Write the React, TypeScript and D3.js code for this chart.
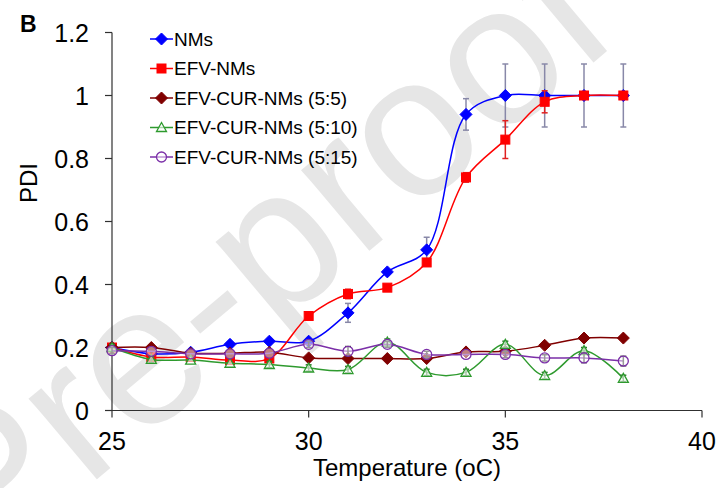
import React from "react";
import * as d3 from "d3";

const temps = [25, 26, 27, 28, 29, 30, 31, 32, 33, 34, 35, 36, 37, 38];
const nmsValues = [0.2, 0.18, 0.185, 0.21, 0.22, 0.22, 0.31, 0.44, 0.51, 0.94, 1.0, 1.0, 1.0, 1.0];
const nmsErrors = [0, 0, 0, 0, 0, 0, 0.03, 0, 0.04, 0.05, 0.1, 0.1, 0.1, 0.1];
const efvValues = [0.2, 0.17, 0.17, 0.16, 0.165, 0.3, 0.37, 0.39, 0.47, 0.74, 0.86, 0.98, 1.0, 1.0];
const efvErrors = [0.01, 0, 0, 0, 0.01, 0, 0.015, 0, 0.01, 0.015, 0.06, 0.035, 0, 0];
const c55Values = [0.2, 0.2, 0.182, 0.182, 0.185, 0.167, 0.165, 0.165, 0.165, 0.186, 0.188, 0.207, 0.23, 0.23];
const c55Errors = [0, 0, 0, 0, 0, 0, 0, 0, 0, 0, 0, 0, 0, 0];
const c510Values = [0.2, 0.162, 0.16, 0.15, 0.146, 0.135, 0.13, 0.217, 0.121, 0.121, 0.21, 0.111, 0.19, 0.102];
const c510Errors = [0.01, 0.01, 0, 0, 0.01, 0.01, 0.01, 0.01, 0.01, 0.01, 0.01, 0.01, 0.01, 0.01];
const c515Values = [0.19, 0.188, 0.18, 0.18, 0.182, 0.21, 0.188, 0.21, 0.178, 0.178, 0.178, 0.167, 0.167, 0.157];
const c515Errors = [0.01, 0, 0, 0, 0, 0.01, 0.015, 0.01, 0.01, 0, 0.01, 0.01, 0.015, 0.015];
const yTicks = [0, 0.2, 0.4, 0.6, 0.8, 1, 1.2];
const xTicks = [25, 30, 35, 40];
const seriesNames = ["NMs", "EFV-NMs", "EFV-CUR-NMs (5:5)", "EFV-CUR-NMs (5:10)", "EFV-CUR-NMs (5:15)"];

type Series = {
  name: string;
  values: number[];
  errors: number[];
  color: string;
  errColor: string;
  marker: "diamond" | "square" | "diamond2" | "triangle" | "circle";
};

const series: Series[] = [
  { name: seriesNames[0], values: nmsValues, errors: nmsErrors, color: "#0000FF", errColor: "#8888A8", marker: "diamond" },
  { name: seriesNames[1], values: efvValues, errors: efvErrors, color: "#FF0000", errColor: "#E02020", marker: "square" },
  { name: seriesNames[2], values: c55Values, errors: c55Errors, color: "#800000", errColor: "#800000", marker: "diamond2" },
  { name: seriesNames[3], values: c510Values, errors: c510Errors, color: "#2E9A2E", errColor: "#2E7A2E", marker: "triangle" },
  { name: seriesNames[4], values: c515Values, errors: c515Errors, color: "#7B2FA8", errColor: "#333333", marker: "circle" },
];

const FONT = "'Liberation Sans', Arial, sans-serif";

function Marker({ kind, cx, cy, color }: { kind: Series["marker"]; cx: number; cy: number; color: string }) {
  switch (kind) {
    case "diamond":
    case "diamond2": {
      const r = 6;
      return <path d={`M${cx},${cy - r}L${cx + r},${cy}L${cx},${cy + r}L${cx - r},${cy}Z`} fill={color} stroke={color} strokeWidth={1} />;
    }
    case "square":
      return <rect x={cx - 4.5} y={cy - 4.5} width={9} height={9} fill={color} stroke={color} strokeWidth={1} />;
    case "triangle": {
      const r = 5;
      return <path d={`M${cx},${cy - r}L${cx + r},${cy + r * 0.8}L${cx - r},${cy + r * 0.8}Z`} fill="white" fillOpacity={0.6} stroke={color} strokeWidth={1.3} />;
    }
    case "circle":
      return <circle cx={cx} cy={cy} r={5} fill="white" fillOpacity={0.5} stroke={color} strokeWidth={1.3} />;
  }
}

export default function App() {
  const W = 721;
  const H = 488;
  const x = d3.scaleLinear().domain([25, 40]).range([112, 702]);
  const y = d3.scaleLinear().domain([0, 1.2]).range([410.5, 32.5]);
  const line = d3
    .line<number>()
    .x((_, i) => x(temps[i]))
    .y((d) => y(d))
    .curve(d3.curveCatmullRom.alpha(0.5));

  const legendX = 150;
  const legendY0 = 39;
  const legendDy = 29.5;

  return (
    <svg width={W} height={H} style={{ position: "absolute", left: 0, top: 0, background: "white" }} fontFamily={FONT}>
      <rect x={0} y={0} width={W} height={H} fill="white" />
      {/* watermark */}
      <text transform="translate(-16,574) rotate(-40)" fontSize={200} fill="#E6E6E6" fontFamily={FONT}>
        Pre-proof
      </text>

      {/* axes */}
      <g stroke="#303030" strokeWidth={1.2}>
        <line x1={x(25)} x2={x(25)} y1={y(1.2)} y2={y(0)} />
        <line x1={x(25)} x2={x(40)} y1={y(0)} y2={y(0)} />
        {yTicks.map((t) => (
          <line key={"yt" + t} x1={x(25) - 7} x2={x(25)} y1={y(t)} y2={y(t)} />
        ))}
        {xTicks.map((t) => (
          <line key={"xt" + t} x1={x(t)} x2={x(t)} y1={y(0)} y2={y(0) + 7} />
        ))}
      </g>
      {yTicks.map((t) => (
        <text key={"yl" + t} x={89} y={y(t)} dy="0.36em" textAnchor="end" fontSize={25} fill="#000">
          {String(t)}
        </text>
      ))}
      {xTicks.map((t) => (
        <text key={"xl" + t} x={x(t)} y={450} textAnchor="middle" fontSize={25} fill="#000">
          {String(t)}
        </text>
      ))}
      <text x={407} y={476} textAnchor="middle" fontSize={24} fill="#000">
        Temperature (oC)
      </text>
      <text transform="translate(37,183) rotate(-90)" textAnchor="middle" fontSize={24} fill="#000">
        PDI
      </text>
      <text x={20} y={32} fontSize={23} fontWeight="bold" fill="#000">
        B
      </text>

      {/* series */}
      {series.map((s) => (
        <g key={s.name}>
          <path d={line(s.values) || ""} fill="none" stroke={s.color} strokeWidth={1.5} />
          {s.values.map((v, i) =>
            s.errors[i] > 0 ? (
              <g key={"e" + i} stroke={s.errColor} strokeWidth={1.5}>
                <line x1={x(temps[i])} x2={x(temps[i])} y1={y(v - s.errors[i])} y2={y(v + s.errors[i])} />
                <line x1={x(temps[i]) - 3} x2={x(temps[i]) + 3} y1={y(v - s.errors[i])} y2={y(v - s.errors[i])} />
                <line x1={x(temps[i]) - 3} x2={x(temps[i]) + 3} y1={y(v + s.errors[i])} y2={y(v + s.errors[i])} />
              </g>
            ) : null
          )}
          {s.values.map((v, i) => (
            <Marker key={"m" + i} kind={s.marker} cx={x(temps[i])} cy={y(v)} color={s.color} />
          ))}
        </g>
      ))}

      {/* legend */}
      {series.map((s, i) => {
        const cy = legendY0 + i * legendDy;
        return (
          <g key={"lg" + i}>
            <line x1={legendX} x2={legendX + 23} y1={cy} y2={cy} stroke={s.color} strokeWidth={1.5} />
            <Marker kind={s.marker} cx={legendX + 11.5} cy={cy} color={s.color} />
            <text x={legendX + 24} y={cy} dy="0.36em" fontSize={19} fill="#000">
              {s.name}
            </text>
          </g>
        );
      })}
    </svg>
  );
}
